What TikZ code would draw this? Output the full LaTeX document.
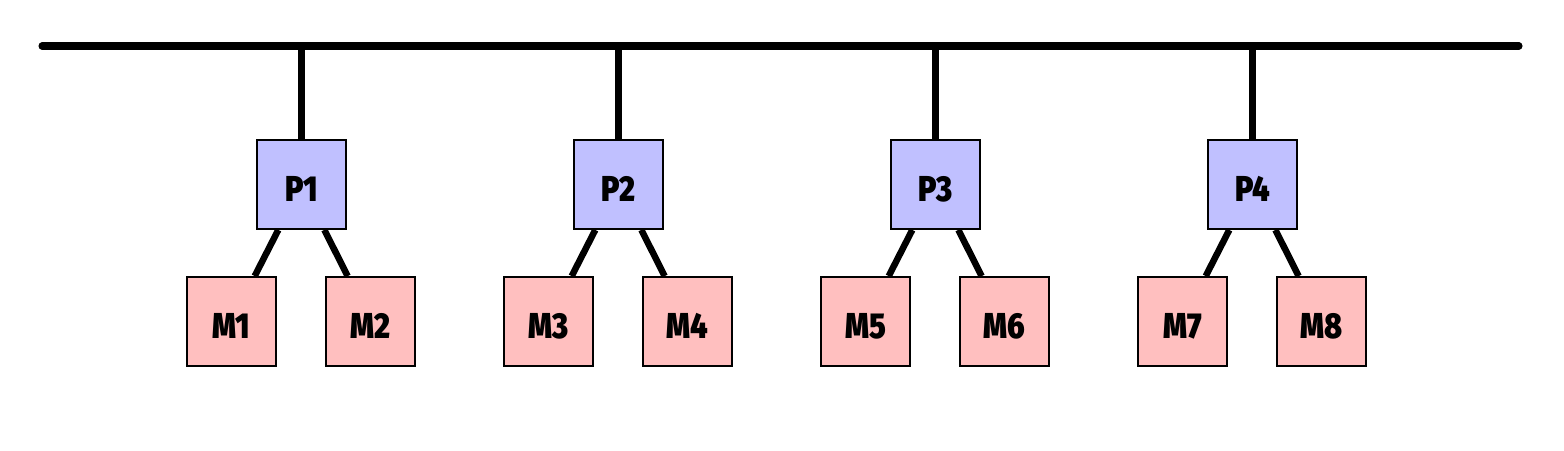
\documentclass[tikz,border=0pt]{standalone}
\usepackage{fontspec}
\newfontfamily\heavyfont{Fira Sans Black}
\definecolor{pfill}{HTML}{C0C0FF}
\definecolor{mfill}{HTML}{FFBFBF}
\newcommand\boxlbl[1]{\raisebox{-9.4pt}[0pt][0pt]{\makebox[0pt]{\scalebox{0.84}[1]{#1}}}}
\begin{document}
\begin{tikzpicture}[x=0.02cm,y=-0.02cm,
  box/.style={draw=black,line width=1.2pt,minimum width=50.5pt,minimum height=50.5pt,inner sep=0pt,
    font=\heavyfont\fontsize{20.5}{20.5}\selectfont},
  pbox/.style={box,fill=pfill},
  mbox/.style={box,fill=mfill},
  link/.style={line width=3.7pt},
  bus/.style={line width=4pt,line cap=round}]
\useasboundingbox (0,0) rectangle (1564,450);
\coordinate (busL) at (42,46);
\coordinate (busR) at (1519,46);
\draw[bus] (busL) -- (busR);
\foreach \i/\x in {1/301.5,2/618.5,3/935.5,4/1252.5}{
  \node[pbox] (P\i) at (\x,184.5) {\boxlbl{P\i}};
  \coordinate (T\i) at (\x,46);
  \draw[link] (T\i) -- (P\i.north);
}
\foreach \i/\p/\x in {1/1/231.5,2/1/370.5,3/2/548.5,4/2/687.5,5/3/865.5,6/3/1004.5,7/4/1182.5,8/4/1321.5}{
  \node[mbox] (M\i) at (\x,321.5) {\boxlbl{M\i}};
  \draw[link] (P\p) -- (M\i);
}
\end{tikzpicture}
\end{document}
